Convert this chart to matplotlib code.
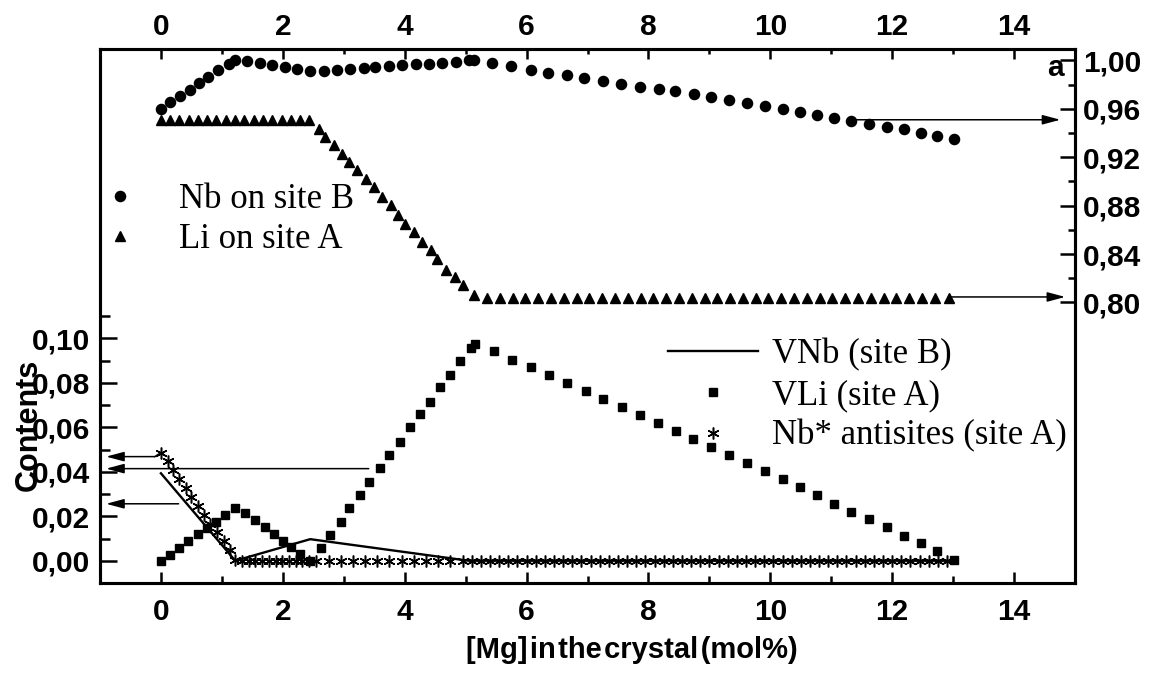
import numpy as np
import matplotlib
matplotlib.use('Agg')
import matplotlib.pyplot as plt
from matplotlib.ticker import FuncFormatter

# ---- data ----
# Nb on site B (right axis)
nb_x = [0.00, 0.15, 0.31, 0.48, 0.63, 0.78, 0.94, 1.11, 1.22,
        1.41, 1.63, 1.82, 2.04, 2.23, 2.45, 2.67, 2.89, 3.11, 3.33, 3.52,
        3.74, 3.96, 4.18, 4.40, 4.62, 4.84, 5.06, 5.13,
        5.43, 5.75, 6.07, 6.35, 6.67, 6.95, 7.26, 7.55, 7.86, 8.18, 8.43,
        8.74, 9.03, 9.32, 9.62, 9.91, 10.20, 10.48, 10.77, 11.05, 11.33,
        11.62, 11.91, 12.19, 12.47, 12.73, 13.02]
nb_y = [0.960, 0.9655, 0.971, 0.976, 0.981, 0.986, 0.992, 0.997, 1.000,
        0.9994, 0.9978, 0.9959, 0.9945, 0.9926, 0.9912, 0.9917, 0.9923, 0.9931, 0.9940, 0.9945,
        0.9953, 0.9959, 0.9967, 0.9973, 0.9981, 0.9986, 1.000, 1.000,
        0.9978, 0.9953, 0.9923, 0.9898, 0.9876, 0.9857, 0.9829, 0.9807, 0.9784, 0.9765, 0.9745,
        0.9723, 0.9696, 0.9671, 0.9646, 0.9621, 0.9599, 0.9571, 0.9549, 0.9524, 0.9502,
        0.9478, 0.9451, 0.9432, 0.9404, 0.9379, 0.9354]

# Li on site A (right axis)
li_x = [0.00, 0.15, 0.30, 0.46, 0.61, 0.76, 0.91, 1.06, 1.22, 1.37, 1.52, 1.67,
        1.82, 1.98, 2.13, 2.28, 2.43,
        2.59, 2.70, 2.84, 2.97, 3.09, 3.22, 3.36, 3.49, 3.63, 3.77, 3.89, 4.01,
        4.15, 4.29, 4.43, 4.53, 4.67, 4.83, 4.96, 5.14,
        5.35, 5.56, 5.77, 5.98, 6.19, 6.40, 6.61, 6.82, 7.03, 7.24, 7.45, 7.66,
        7.87, 8.08, 8.29, 8.50, 8.71, 8.92, 9.13, 9.34, 9.55, 9.76, 9.97, 10.18,
        10.39, 10.60, 10.81, 11.02, 11.23, 11.44, 11.65, 11.86, 12.07, 12.28,
        12.49, 12.70, 12.93]
li_y = [0.951, 0.951, 0.951, 0.951, 0.951, 0.951, 0.951, 0.951, 0.951, 0.951, 0.951, 0.951,
        0.951, 0.951, 0.951, 0.951, 0.951,
        0.9436, 0.9366, 0.9298, 0.9229, 0.9160, 0.9091, 0.9022, 0.8953, 0.8870, 0.8802, 0.8719, 0.8650,
        0.8581, 0.8498, 0.8430, 0.8361, 0.8264, 0.8209, 0.8140, 0.8058,
        0.804, 0.804, 0.804, 0.804, 0.804, 0.804, 0.804, 0.804, 0.804, 0.804, 0.804, 0.804,
        0.804, 0.804, 0.804, 0.804, 0.804, 0.804, 0.804, 0.804, 0.804, 0.804, 0.804, 0.804,
        0.804, 0.804, 0.804, 0.804, 0.804, 0.804, 0.804, 0.804, 0.804, 0.804,
        0.804, 0.804, 0.804]

# VNb (site B) - solid line (left axis)
vnb_x = [0.00, 1.22, 2.45, 5.05, 13.00]
vnb_y = [0.0393, 0.0, 0.0097, 0.0, 0.0]

# VLi (site A) - squares (left axis)
vli_x = [0.00, 0.15, 0.30, 0.45, 0.60, 0.75, 0.90, 1.05, 1.22,
         1.38, 1.54, 1.70, 1.85, 2.00, 2.14, 2.29, 2.44,
         2.62, 2.78, 2.95, 3.09, 3.26, 3.41, 3.59, 3.75, 3.92, 4.08, 4.25, 4.41,
         4.58, 4.74, 4.91, 5.09, 5.15,
         5.46, 5.76, 6.07, 6.36, 6.67, 6.98, 7.26, 7.56, 7.86, 8.15, 8.46, 8.73,
         9.03, 9.32, 9.62, 9.91, 10.20, 10.49, 10.77, 11.05, 11.33, 11.62, 11.91,
         12.19, 12.47, 12.74, 13.02]
vli_y = [0.0000, 0.0027, 0.0057, 0.0087, 0.0120, 0.0149, 0.0176, 0.0206, 0.0236,
         0.0214, 0.0184, 0.0151, 0.0121, 0.0091, 0.0061, 0.0031, 0.0000,
         0.0057, 0.0117, 0.0176, 0.0236, 0.0296, 0.0356, 0.0416, 0.0475, 0.0535, 0.0600, 0.0658, 0.0714,
         0.0779, 0.0837, 0.0898, 0.0958, 0.0976,
         0.0942, 0.0904, 0.0869, 0.0833, 0.0797, 0.0761, 0.0725, 0.0689, 0.0653, 0.0617, 0.0583, 0.0546,
         0.0510, 0.0474, 0.0438, 0.0402, 0.0366, 0.0330, 0.0295, 0.0256, 0.0220, 0.0187, 0.0151,
         0.0113, 0.0078, 0.0042, 0.0004]

# Nb* antisites (site A) - asterisks (left axis)
anti_x = [0.00, 0.11, 0.20, 0.30, 0.41, 0.50, 0.60, 0.71, 0.81, 0.92, 1.03, 1.13, 1.22,
          1.33, 1.44, 1.55, 1.66, 1.77, 1.88, 1.99, 2.10, 2.21, 2.32, 2.43,
          2.55, 2.75, 2.95, 3.15, 3.35, 3.55, 3.75, 3.95, 4.15, 4.35, 4.55, 4.75, 4.95,
          5.10, 5.25, 5.40, 5.55, 5.70, 5.85, 6.00, 6.15, 6.30, 6.45, 6.60, 6.75, 6.90,
          7.05, 7.20, 7.35, 7.50, 7.65, 7.80, 7.95, 8.10, 8.25, 8.40, 8.55, 8.70, 8.85,
          9.00, 9.15, 9.30, 9.45, 9.60, 9.75, 9.90, 10.05, 10.20, 10.35, 10.50, 10.65,
          10.80, 10.95, 11.10, 11.25, 11.40, 11.55, 11.70, 11.85, 12.00, 12.15, 12.30,
          12.45, 12.60, 12.75, 12.90]
anti_y = [0.0486, 0.0448, 0.0408, 0.0368, 0.0326, 0.0286, 0.0248, 0.0206, 0.0166, 0.0127, 0.0087, 0.0049, 0.0004,
          0.0, 0.0, 0.0, 0.0, 0.0, 0.0, 0.0, 0.0, 0.0, 0.0, 0.0,
          0.0, 0.0, 0.0, 0.0, 0.0, 0.0, 0.0, 0.0, 0.0, 0.0, 0.0, 0.0, 0.0,
          0.0, 0.0, 0.0, 0.0, 0.0, 0.0, 0.0, 0.0, 0.0, 0.0, 0.0, 0.0, 0.0,
          0.0, 0.0, 0.0, 0.0, 0.0, 0.0, 0.0, 0.0, 0.0, 0.0, 0.0, 0.0, 0.0,
          0.0, 0.0, 0.0, 0.0, 0.0, 0.0, 0.0, 0.0, 0.0, 0.0, 0.0, 0.0,
          0.0, 0.0, 0.0, 0.0, 0.0, 0.0, 0.0, 0.0, 0.0, 0.0, 0.0,
          0.0, 0.0, 0.0, 0.0]

left_ticks = [0.00, 0.02, 0.04, 0.06, 0.08, 0.10]
left_minor = [0.01, 0.03, 0.05, 0.07, 0.09, 0.11]
right_ticks = [0.80, 0.84, 0.88, 0.92, 0.96, 1.00]
right_minor = [0.82, 0.86, 0.90, 0.94, 0.98]
x_ticks = [0, 2, 4, 6, 8, 10, 12, 14]
x_minor = [1, 3, 5, 7, 9, 11, 13]

# ---- styling ----
sans = 'Liberation Sans'
serif = 'Liberation Serif'
tick_fs = 21.5
leg_fs = 25

W, H = 1157, 673
fig = plt.figure(figsize=(W / 100, H / 100), dpi=100)
ax = fig.add_axes([100 / W, 1 - 583 / H, 975 / W, 534 / H])
ax2 = ax.twinx()
ax2.xaxis.set_visible(True)

comma = FuncFormatter(lambda v, p: f'{v:.2f}'.replace('.', ','))

# lower (left) axis data
ax.plot(vnb_x, vnb_y, color='black', lw=1.7, label='VNb (site B)', zorder=3)
ax.plot(vli_x, vli_y, ls='none', marker='s', ms=5.8, color='black',
        label='VLi (site A)', zorder=4)
ax.plot(anti_x, anti_y, ls='none', marker=(6, 2, 0), ms=8.5, mew=1.1,
        color='black', label='Nb* antisites (site A)', zorder=4)

# upper (right) axis data
ax2.plot(nb_x, nb_y, ls='none', marker='o', ms=7.3, color='black',
         label='Nb on site B')
ax2.plot(li_x, li_y, ls='none', marker='^', ms=6.8, color='black',
         label='Li on site A')

ax.set_xlim(-1, 15)
ax.set_ylim(-0.01, 0.23)
ax2.set_ylim(0.568, 1.0095)
ax.set_xticks(x_ticks)
ax.set_xticks(x_minor, minor=True)
ax.set_yticks(left_ticks)
ax.set_yticks(left_minor, minor=True)
ax2.set_yticks(right_ticks)
ax2.set_yticks(right_minor, minor=True)
ax.yaxis.set_major_formatter(comma)
ax2.yaxis.set_major_formatter(comma)

for a in (ax, ax2):
    for s in a.spines.values():
        s.set_linewidth(2.2)

ax.tick_params(axis='x', which='major', direction='in', length=8, width=1.8,
               top=False, labeltop=False, pad=11)
ax.tick_params(axis='x', which='minor', direction='in', length=5, width=1.8,
               top=False)
ax2.tick_params(axis='x', which='major', direction='in', length=7, width=1.8,
                top=True, labeltop=True, bottom=False, labelbottom=False, pad=6)
ax2.tick_params(axis='x', which='minor', direction='in', length=3.6, width=1.8,
                top=True, bottom=False)
ax.tick_params(axis='y', which='major', direction='in', length=12, width=1.8, pad=7)
ax.tick_params(axis='y', which='minor', direction='in', length=7, width=1.8)
ax2.tick_params(axis='y', which='major', direction='in', length=11, width=1.8, pad=6)
ax2.tick_params(axis='y', which='minor', direction='in', length=5, width=1.8)

for lab in (ax.get_xticklabels() + ax.get_yticklabels()
            + ax2.get_xticklabels() + ax2.get_yticklabels()):
    lab.set_fontfamily(sans)
    lab.set_fontweight('bold')
    lab.set_fontsize(tick_fs)

# axis title is set tight in the original, hair spaces between the words
ax.set_xlabel('[Mg]\u200ain\u200athe\u200acrystal\u200a(mol%)',
              fontfamily=[sans, 'DejaVu Sans'], fontweight='bold', fontsize=21)
ax.xaxis.set_label_coords(0.546, -0.1)
ax.set_ylabel('Contents', fontfamily=sans, fontweight='bold', fontsize=22)
ax.yaxis.set_label_coords(-0.058, 0.296)

ax2.text(0.9795, 0.9644, 'a', transform=ax2.transAxes, ha='center', va='center',
         fontfamily=sans, fontweight='bold', fontsize=tick_fs)

# legends
leg_kw = dict(frameon=False, borderpad=0, borderaxespad=0, handlelength=2.6,
              handletextpad=0.4, numpoints=1, loc='upper left',
              bbox_transform=fig.transFigure,
              prop={'family': serif, 'size': leg_fs})
leg2 = ax2.legend(bbox_to_anchor=(75 / W, 1 - 183 / H), labelspacing=0.2, **leg_kw)
leg1 = ax.legend(bbox_to_anchor=(668 / W, 1 - 338 / H), labelspacing=0.22, **leg_kw)

# arrows pointing to the axes
arr = dict(arrowstyle='-|>,head_length=0.6,head_width=0.16', color='black',
           lw=1.1, mutation_scale=18, shrinkA=0, shrinkB=0)
ax2.annotate('', xy=(14.76, 0.951), xytext=(11.33, 0.951), arrowprops=arr)
ax2.annotate('', xy=(14.84, 0.8045), xytext=(12.95, 0.8045), arrowprops=arr)
ax.plot([0.0, -0.1], [0.0486, 0.0468], color='black', lw=1.1)
ax.annotate('', xy=(-0.9, 0.0468), xytext=(-0.1, 0.0468), arrowprops=arr)
ax.annotate('', xy=(-0.9, 0.0414), xytext=(3.41, 0.0414), arrowprops=arr)
ax.annotate('', xy=(-0.9, 0.0256), xytext=(0.29, 0.0256), arrowprops=arr)

fig.savefig('out.png', dpi=100)
